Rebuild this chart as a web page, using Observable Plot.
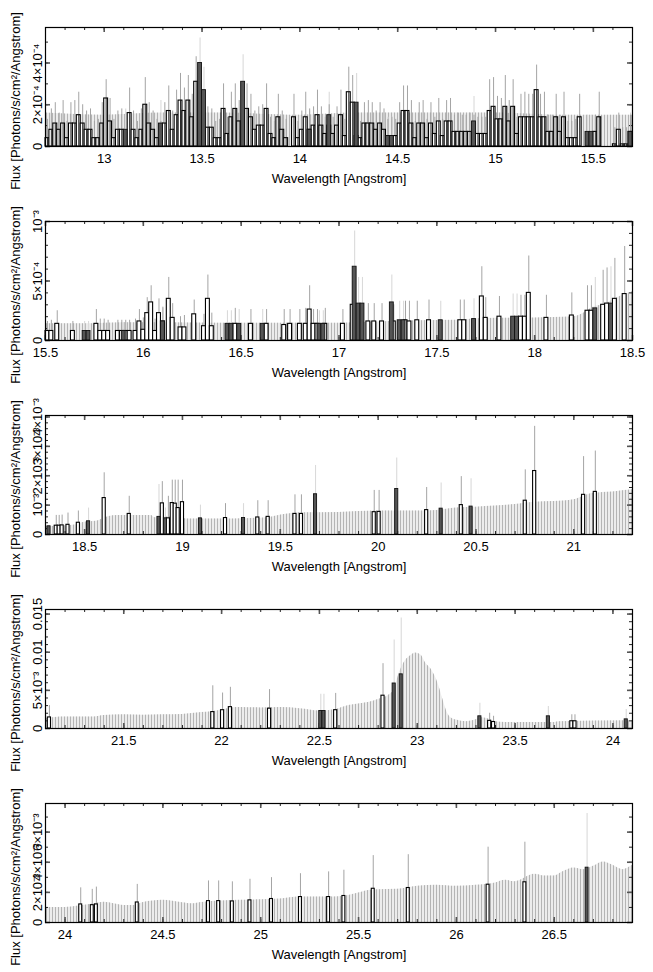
<!DOCTYPE html>
<html><head><meta charset="utf-8">
<script src="https://cdn.jsdelivr.net/npm/d3@7"></script>
<script src="https://cdn.jsdelivr.net/npm/@observablehq/plot@0.6"></script>
<style>
body{margin:0;background:#fff;font-family:"Liberation Sans",Arial,Helvetica,sans-serif;}
#chart{width:653px;}
#chart svg{display:block;}
</style></head><body>
<svg width="0" height="0" style="position:absolute"><defs>
<pattern id="hatch" patternUnits="userSpaceOnUse" width="3" height="8"><rect x="1" y="0" width="1" height="8" fill="#b4b4b4"/></pattern>
</defs></svg>
<div id="chart"></div>
<script>
// ---------------- Panel 1 (flux in units of 1e-4) ----------------
const p1XTicks = [13, 13.5, 14, 14.5, 15, 15.5];
const p1YTicks = [0, 2, 4];
const p1YLabels = ["0", "2×10⁻⁴", "4×10⁻⁴"];
const p1BinStart = 12.70, p1BinWidth = 0.02;
const p1Flux = [
 0.4,0.8,1.1,0.8,1.1,0.4,1.1,1.1,1.5,1.1,
 0.8,0.8,0.4,0.4,1.1,2.3,1.2,0.4,0.8,0.8,
 0,1.6,0.8,0.4,0.8,2.0,1.1,0.8,0.4,0.4,
 1.1,1.7,0.8,1.5,2.2,1.7,2.2,1.4,3.1,1.3,
 0.9,0.9,0.9,0.4,0.4,1.8,0.6,1.4,1.8,1.2,
 1.2,1.8,1.4,0.8,1.0,1.0,1.8,0.6,0.4,1.4,
 0.8,0.4,0,1.4,0.4,0.8,1.4,0.8,1.0,1.5,
 1.0,0.6,1.0,0.6,1.0,1.5,0.5,2.6,2.1,0.5,
 0.4,1.1,1.1,1.1,0.8,1.1,0.8,0.5,0.5,0.5,
 1.1,1.7,1.7,1.1,0.4,1.1,1.1,0.4,1.1,0.6,
 1.2,0.5,1.2,1.2,0.7,0.7,0.7,0.7,0.7,0.7,
 0.6,0.6,0.6,1.7,1.9,1.3,1.3,1.9,1.2,1.9,
 0.6,1.4,1.4,1.4,1.4,2.7,1.4,1.4,0.7,0.7,
 1.4,0.7,1.4,0.4,0.4,0.4,1.4,0,0,0,
 0.7,1.4,0,0,0,0.1,0.8,0.1,0.1,0.7];
const p1Err = [
 1.3,1.8,2.1,1.6,2.2,1.2,2.1,2.2,2.6,2.0,
 1.7,1.8,1.2,1.3,2.1,3.2,2.3,1.3,1.7,1.8,
 0,2.8,1.7,1.2,1.8,3.3,2.1,1.7,1.3,1.2,
 2.1,2.9,1.7,2.7,3.5,2.8,3.4,2.5,4.3,2.4,
 1.8,1.9,1.8,1.2,1.3,3.0,1.4,2.6,3.0,2.2,
 2.3,3.0,2.5,1.7,1.9,2.0,3.0,1.4,1.2,2.5,
 1.7,1.3,0,2.5,1.2,1.7,2.6,1.8,1.9,2.7,
 1.9,1.4,2.0,1.4,1.9,2.7,1.3,3.8,3.4,1.3,
 1.2,2.1,2.2,2.1,1.7,2.1,1.8,1.3,1.4,1.3,
 2.1,2.9,2.9,2.2,1.2,2.1,2.2,1.3,2.1,1.4,
 2.3,1.3,2.2,2.3,1.5,1.6,1.5,1.5,1.6,1.5,
 1.4,1.4,1.4,3.2,3.3,2.4,2.3,3.4,2.2,3.2,
 1.4,2.5,2.6,2.5,2.5,3.9,2.5,2.6,1.5,1.5,
 2.5,1.5,2.6,1.2,1.2,1.3,2.5,0,0,0,
 1.5,2.6,0,0,0,0.9,1.6,0.9,0.9,1.5];
const p1DarkWave = [13.11,13.29,13.49,13.51,13.71,14.05,14.15,14.29,14.45,14.47,14.89,15.47,15.49,15.69];
const p1DarkFlux = [0.8,1.1,4.0,2.7,3.1,0.8,1.5,2.1,0.5,0.5,1.2,0.7,0.7,0.7];
const p1DarkErr  = [1.8,2.2,5.2,3.8,4.4,1.7,2.6,3.5,1.4,1.4,2.4,1.5,1.5,1.6];
const p1EnvWave = [12.7,13.0,13.3,13.6,14.0,14.3,14.6,15.0,15.3,15.7];
const p1EnvFlux = [1.6,1.5,1.6,1.6,1.5,1.6,1.6,1.6,1.5,1.5];

// ---------------- Panel 2 (units of 1e-4) ----------------
const p2XTicks = [15.5, 16, 16.5, 17, 17.5, 18, 18.5];
const p2YTicks = [0, 5, 10];
const p2YLabels = ["0", "5×10⁻⁴", "10⁻³"];
const p2Wave = [15.51,15.53,15.56,15.64,15.76,15.78,15.80,15.82,15.87,15.89,15.91,15.93,15.96,15.98,16.00,16.02,16.04,16.06,16.08,16.10,16.13,16.15,16.19,16.21,16.26,16.31,16.33,16.35,16.47,16.55,16.63,16.72,16.75,16.80,16.83,16.85,16.87,16.89,16.93,17.02,17.07,17.11,17.15,17.18,17.22,17.28,17.34,17.36,17.40,17.46,17.62,17.64,17.73,17.75,17.82,17.93,17.95,17.97,18.06,18.19,18.27,18.29,18.35,18.37,18.41,18.46];
const p2Flux = [0.8,0.8,1.4,0.8,1.4,0.8,0.8,0.8,0.8,0.8,0.8,0.8,0.8,1.6,0.9,2.3,3.2,0.8,2.3,1.6,3.5,1.9,1.1,1.1,2.2,1.2,3.5,1.2,1.4,1.4,1.4,1.3,1.4,1.4,1.4,2.6,1.4,1.4,1.4,1.4,3.0,1.5,1.6,1.6,1.6,1.6,1.7,1.6,1.7,1.7,1.7,1.7,3.7,1.9,2.0,2.0,2.0,4.0,1.9,2.1,2.5,2.5,3.0,3.1,3.5,3.9];
const p2Err = [1.6,1.7,2.5,1.6,2.6,1.8,1.8,1.7,1.7,1.7,1.7,1.7,1.8,2.6,1.9,3.6,4.6,1.8,3.5,2.8,5.3,3.1,2.0,2.1,3.4,2.2,5.5,2.3,2.7,2.6,2.6,2.6,2.6,2.6,2.7,4.6,2.6,2.6,2.7,2.6,5.0,2.8,3.1,3.1,3.1,3.0,3.3,3.3,3.3,3.4,3.4,3.4,6.2,3.6,3.7,3.8,3.8,7.1,3.8,4.0,4.6,4.6,5.9,6.1,6.9,7.9];
const p2DarkWave = [15.70,15.72,15.90,16.10,16.43,16.45,16.49,16.61,16.90,16.92,17.08,17.10,17.12,17.27,17.31,17.33,17.52,17.69,17.89,17.91,18.31,18.39];
const p2DarkFlux = [0.8,0.8,0.8,1.6,1.4,1.4,1.4,1.4,1.4,1.4,6.2,3.1,3.1,3.2,1.7,1.7,1.7,1.8,2.0,2.0,2.7,3.1];
const p2DarkErr  = [1.6,1.6,1.5,2.7,2.5,2.5,2.6,2.6,2.5,2.5,9.2,5.3,5.3,5.5,3.3,3.3,3.3,3.5,3.9,3.9,5.3,6.2];
const p2EnvWave = [15.5,15.7,15.9,16.1,16.4,16.7,17.0,17.2,17.4,17.6,17.75,18.0,18.2,18.25,18.3,18.35,18.4,18.45,18.5];
const p2EnvFlux = [1.4,1.4,1.5,1.5,1.45,1.45,1.45,1.55,1.65,1.7,1.85,1.9,2.0,2.3,2.8,3.0,3.4,3.8,4.1];

// ---------------- Panel 3 (units of 1e-3) ----------------
const p3XTicks = [18.5, 19, 19.5, 20, 20.5, 21];
const p3YTicks = [0, 1, 2, 3, 4];
const p3YLabels = ["0", "10⁻³", "2×10⁻³", "3×10⁻³", "4×10⁻³"];
const p3Wave = [18.355,18.37,18.385,18.415,18.468,18.60,18.728,18.897,18.928,18.948,18.963,18.978,19.0,19.22,19.385,19.438,19.575,19.608,19.98,20.005,20.248,20.425,20.752,20.80,21.05,21.11];
const p3Flux = [0.3,0.3,0.31,0.33,0.4,1.24,0.7,1.06,0.55,1.07,1.05,0.9,1.1,0.56,0.58,0.6,0.7,0.7,0.76,0.77,0.83,1.0,1.15,2.16,1.35,1.45];
const p3Err  = [0.65,0.65,0.66,0.73,0.8,2.1,1.3,1.8,1.3,1.85,1.85,1.85,1.85,1.05,1.15,1.15,1.35,1.35,1.5,1.5,1.6,1.97,2.2,3.68,2.65,2.84];
const p3DarkWave = [18.318,18.52,18.88,18.913,19.092,19.312,19.68,20.095,20.322,20.475];
const p3DarkFlux = [0.28,0.45,0.6,0.55,0.55,0.56,1.37,1.55,0.88,0.95];
const p3DarkErr  = [0.3,0.9,1.7,0.9,1.0,1.05,2.35,2.6,1.75,1.9];
const p3EnvWave = [18.3,18.36,18.45,18.5,18.56,18.6,18.62,18.67,18.84,18.86,18.95,19.02,19.26,19.43,19.52,19.6,19.8,19.9,20.0,20.2,20.3,20.4,20.5,20.6,20.7,20.8,20.9,21.0,21.05,21.1,21.2,21.3];
const p3EnvFlux = [0.27,0.28,0.32,0.42,0.45,0.55,0.6,0.65,0.65,0.57,0.6,0.53,0.53,0.57,0.68,0.74,0.75,0.78,0.8,0.8,0.82,0.9,0.93,0.97,1.02,1.1,1.12,1.18,1.3,1.4,1.45,1.52];

// ---------------- Panel 4 (units of 1e-3) ----------------
const p4XTicks = [21.5, 22, 22.5, 23, 23.5, 24];
const p4YTicks = [0, 5, 10, 15];
const p4YLabels = ["0", "5×10⁻³", "0.01", "0.015"];
const p4Wave = [21.12,21.955,22.005,22.045,22.245,22.583,22.825,23.37,23.39,23.79,23.806];
const p4Flux = [1.45,2.15,2.4,2.8,2.6,2.4,4.3,1.0,0.85,0.95,0.95];
const p4Err  = [3.0,5.6,4.65,5.4,5.1,4.6,8.5,2.0,1.6,1.8,1.8];
const p4DarkWave = [22.507,22.523,22.882,22.918,23.32,23.67,24.068];
const p4DarkFlux = [2.3,2.3,5.9,7.1,1.6,1.6,1.2];
const p4DarkErr  = [4.5,4.5,11.6,14.5,3.3,2.9,2.5];
const p4EnvWave = [21.1,21.15,21.2,21.35,21.4,21.5,21.6,21.7,21.8,21.9,21.95,22.0,22.05,22.1,22.2,22.3,22.4,22.5,22.6,22.65,22.7,22.75,22.8,22.85,22.88,22.91,22.94,22.97,22.99,23.02,23.04,23.07,23.09,23.11,23.13,23.15,23.17,23.2,23.25,23.3,23.33,23.37,23.4,23.45,23.7,23.72,24.1];
const p4EnvFlux = [1.3,1.45,1.5,1.5,1.7,1.8,1.75,1.8,1.85,2.1,2.2,2.4,2.7,2.75,2.7,2.75,2.6,2.3,2.6,3.0,3.2,3.4,3.8,4.3,5.0,7.4,8.9,9.6,9.9,9.6,8.7,7.8,6.9,5.6,3.9,2.3,1.45,1.1,0.9,1.15,1.4,1.2,0.9,0.8,0.8,0.9,1.0];

// ---------------- Panel 5 (units of 1e-3) ----------------
const p5XTicks = [24, 24.5, 25, 25.5, 26, 26.5];
const p5YTicks = [0, 2, 4, 6];
const p5YLabels = ["0", "2×10⁻³", "4×10⁻³", "6×10⁻³"];
const p5Wave = [24.08,24.139,24.16,24.369,24.733,24.785,24.855,24.945,25.055,25.203,25.347,25.425,25.575,25.754,26.162,26.35];
const p5Flux = [1.2,1.15,1.2,1.33,1.42,1.42,1.4,1.47,1.56,1.69,1.69,1.76,2.24,2.29,2.51,2.67];
const p5Err  = [2.3,2.2,2.35,2.53,2.76,2.76,2.7,2.87,2.98,3.24,3.36,3.47,4.44,4.5,5.0,5.33];
const p5DarkWave = [26.668];
const p5DarkFlux = [3.64];
const p5DarkErr  = [7.24];
const p5EnvWave = [23.9,24.0,24.07,24.15,24.2,24.25,24.3,24.35,24.4,24.45,24.5,24.6,24.65,24.7,24.8,24.9,25.0,25.1,25.2,25.3,25.35,25.45,25.5,25.55,25.6,25.7,25.8,25.9,26.0,26.1,26.2,26.25,26.3,26.4,26.45,26.5,26.55,26.6,26.65,26.7,26.75,26.8,26.85,26.9];
const p5EnvFlux = [1.0,1.0,1.1,1.25,1.35,1.25,1.13,1.13,1.33,1.42,1.47,1.31,1.24,1.33,1.42,1.47,1.51,1.56,1.69,1.69,1.69,1.8,1.96,2.13,2.18,2.2,2.4,2.47,2.4,2.47,2.62,2.8,2.71,3.2,3.09,3.09,3.4,3.62,3.51,3.73,4.02,3.8,3.51,3.8];

const p1Wave = p1Flux.map((_, i) => p1BinStart + (i + 0.5) * p1BinWidth);

const panels = [
  {xDomain:[12.7,15.7], yDomain:[0,5.7], xTicks:p1XTicks, yTicks:p1YTicks, yLabels:p1YLabels, yMinorStep:1, bin:0.02, lined:true,
   wave:p1Wave, flux:p1Flux, err:p1Err, dWave:p1DarkWave, dFlux:p1DarkFlux, dErr:p1DarkErr, eWave:p1EnvWave, eFlux:p1EnvFlux},
  {xDomain:[15.5,18.5], yDomain:[0,10], xTicks:p2XTicks, yTicks:p2YTicks, yLabels:p2YLabels, yMinorStep:1, bin:0.02,
   wave:p2Wave, flux:p2Flux, err:p2Err, dWave:p2DarkWave, dFlux:p2DarkFlux, dErr:p2DarkErr, eWave:p2EnvWave, eFlux:p2EnvFlux},
  {xDomain:[18.3,21.3], yDomain:[0,4.05], xTicks:p3XTicks, yTicks:p3YTicks, yLabels:p3YLabels, yMinorStep:0.2, bin:0.016,
   wave:p3Wave, flux:p3Flux, err:p3Err, dWave:p3DarkWave, dFlux:p3DarkFlux, dErr:p3DarkErr, eWave:p3EnvWave, eFlux:p3EnvFlux},
  {xDomain:[21.1,24.1], yDomain:[0,15.6], xTicks:p4XTicks, yTicks:p4YTicks, yLabels:p4YLabels, yMinorStep:1, bin:0.016,
   wave:p4Wave, flux:p4Flux, err:p4Err, dWave:p4DarkWave, dFlux:p4DarkFlux, dErr:p4DarkErr, eWave:p4EnvWave, eFlux:p4EnvFlux},
  {xDomain:[23.9,26.9], yDomain:[0,7.9], xTicks:p5XTicks, yTicks:p5YTicks, yLabels:p5YLabels, yMinorStep:1, bin:0.015,
   wave:p5Wave, flux:p5Flux, err:p5Err, dWave:p5DarkWave, dFlux:p5DarkFlux, dErr:p5DarkErr, eWave:p5EnvWave, eFlux:p5EnvFlux}
];

function makePanel(c) {
  const W = 653, H = 194, mL = 45, mR = 21, mT = 27, mB = 48;
  const fw = W - mL - mR, fh = H - mT - mB;
  const [x0, x1] = c.xDomain, [y0, y1] = c.yDomain;
  const px = (x1 - x0) / fw, py = (y1 - y0) / fh;
  const env = c.eWave.map((x, i) => ({x, y: c.eFlux[i]}));
  const black = c.wave.map((x, i) => ({x, v: c.flux[i], e: c.err[i]})).filter(d => d.v > 0);
  const dark = c.dWave.map((x, i) => ({x, v: c.dFlux[i], e: c.dErr[i]}));
  const hw = c.bin / 2;
  const xMinor = d3.range(Math.round(x0 * 10), Math.round(x1 * 10) + 1).map(k => k / 10);
  const yMinor = d3.range(0, Math.floor(y1 / c.yMinorStep + 1e-9) + 1).map(k => k * c.yMinorStep);
  const tl = 3, TL = 5;
  const tickStyle = {stroke: "#222", strokeWidth: 1};
  const svg = Plot.plot({
    width: W, height: H, marginLeft: mL, marginRight: mR, marginTop: mT, marginBottom: mB,
    style: {fontFamily: '"Liberation Sans", Arial, Helvetica, sans-serif', fontSize: "13px", background: "#fff", overflow: "visible"},
    x: {domain: [x0, x1], axis: null},
    y: {domain: [y0, y1], axis: null},
    marks: [
      Plot.areaY(env, {x: "x", y1: 0, y2: "y", fill: "#ececec", curve: "monotone-x"}),
      Plot.areaY(env, {x: "x", y1: 0, y2: "y", fill: "#ecedec", curve: "monotone-x"}),
      // ticks (inside)
      Plot.ruleX(xMinor, {x: d => d, y1: 0, y2: tl * py, ...tickStyle}),
      Plot.ruleX(xMinor, {x: d => d, y1: y1, y2: y1 - tl * py, ...tickStyle}),
      Plot.ruleX(c.xTicks, {x: d => d, y1: 0, y2: TL * py, stroke: "#555", strokeWidth: 1.6}),
      Plot.ruleX(c.xTicks, {x: d => d, y1: y1, y2: y1 - TL * py, stroke: "#555", strokeWidth: 1.6}),
      Plot.ruleY(yMinor, {y: d => d, x1: x0, x2: x0 + tl * px, ...tickStyle}),
      Plot.ruleY(yMinor, {y: d => d, x1: x1, x2: x1 - tl * px, ...tickStyle}),
      Plot.ruleY(c.yTicks, {y: d => d, x1: x0, x2: x0 + TL * px, stroke: "#555", strokeWidth: 1.6}),
      Plot.ruleY(c.yTicks, {y: d => d, x1: x1, x2: x1 - TL * px, stroke: "#555", strokeWidth: 1.6}),
      // error bars
      Plot.ruleX(dark.filter(d => d.e > d.v), {x: "x", y1: "v", y2: "e", stroke: "#dadada", strokeWidth: 1.1}),
      Plot.ruleX(black.filter(d => d.e > d.v), {x: "x", y1: "v", y2: "e", stroke: "#a4a4a4", strokeWidth: 1}),
      // data bars
      Plot.rect(black, {x1: d => d.x - hw, x2: d => d.x + hw, y1: 0, y2: "v", fill: "#fff", stroke: "#000", strokeWidth: 1.1}),
      c.lined ? Plot.ruleX(black, {x: "x", y1: 0, y2: "v", stroke: "#111", strokeWidth: 0.9}) : null,
      Plot.rect(dark, {x1: d => d.x - hw, x2: d => d.x + hw, y1: 0, y2: "v", fill: "#555", stroke: "#111", strokeWidth: 0.9}),
      Plot.frame({stroke: "#000", strokeWidth: 1.2}),
      // tick labels
      Plot.text(c.xTicks, {x: d => d, text: d => String(d), frameAnchor: "bottom", dy: 12, lineAnchor: "middle", fontSize: 13, fill: "#000"}),
      Plot.text(c.yTicks, {y: d => d, text: (d, i) => c.yLabels[i], frameAnchor: "left", dx: -4, rotate: -90, textAnchor: "middle", lineAnchor: "bottom", fontSize: 13, fill: "#000"}),
      // axis titles
      Plot.text(["Wavelength [Angstrom]"], {text: d => d, frameAnchor: "bottom", dy: 32, lineAnchor: "middle", fontSize: 13, fill: "#000"}),
      Plot.text(["Flux [Photons/s/cm²/Angstrom]"], {text: d => d, frameAnchor: "left", dx: -30, dy: 14, rotate: -90, textAnchor: "middle", lineAnchor: "middle", fontSize: 13, fill: "#000"})
    ]
  });
  svg.querySelectorAll('[fill="#ecedec"]').forEach(el => el.setAttribute("fill", "url(#hatch)"));
  return svg;
}

const host = document.getElementById("chart");
for (const c of panels) host.appendChild(makePanel(c));
</script>
</body></html>
